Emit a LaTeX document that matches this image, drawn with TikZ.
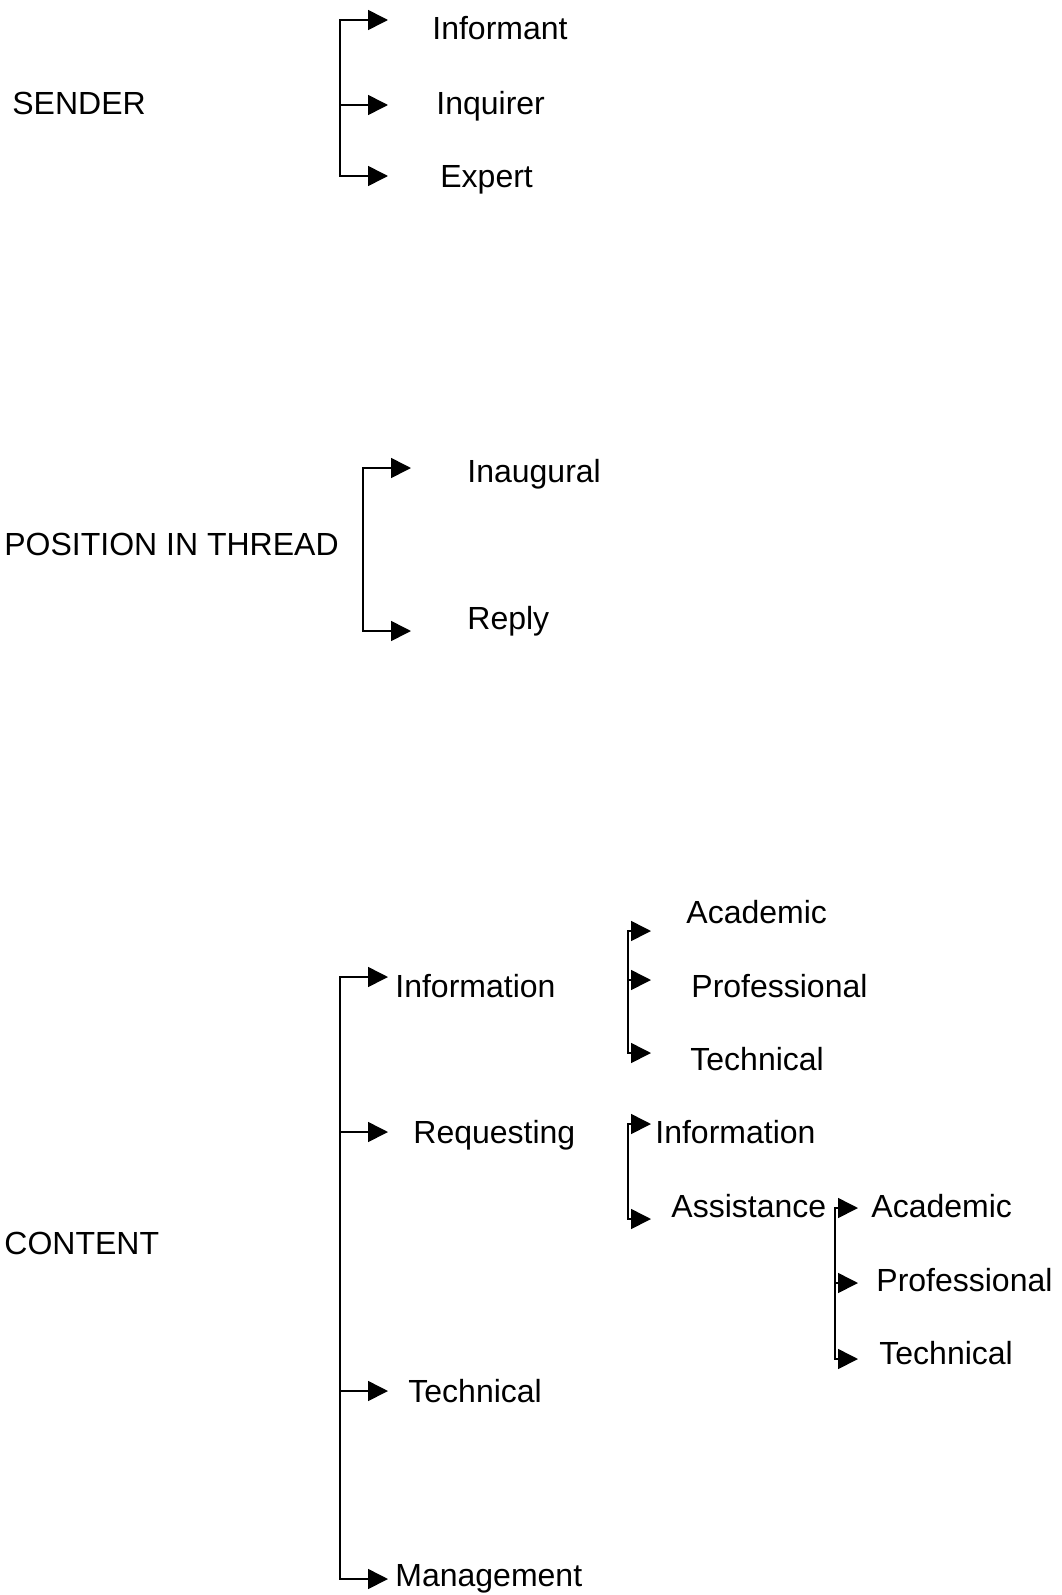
\documentclass[tikz,border=0pt]{standalone}
\usepackage{fontspec}
\setmainfont{Liberation Sans}
\usetikzlibrary{arrows.meta, positioning}

\tikzset{
	lbl/.style={anchor=west, inner sep=0pt, text height=11.5pt, text depth=0pt,
		font=\fontsize{16}{19}\selectfont},
	spine/.style={line width=0.8pt, line cap=rect},
	branch/.style={line width=0.8pt, -{Triangle[length=10pt, width=10pt]}}
}

\begin{document}
\begin{tikzpicture}[x=0.5pt, y=-0.5pt]
			\useasboundingbox (0,0) rectangle (1061,1595);

			% sender
			\node[lbl] (sender) at (12,103) {SENDER};
			\node[lbl] (informant) at (432,28) {Informant};
			\node[lbl] (inquirer) at (436,103) {Inquirer};
			\node[lbl] (expert) at (440,176) {Expert};
			\coordinate (sndTop) at (340,20);
			\coordinate (sndBot) at (340,176);
			\coordinate (tipInformant) at (388,20);
			\coordinate (tipInquirer) at (388,105);
			\coordinate (tipExpert) at (388,176);
			\draw[spine] (sndTop) -- (sndBot);
			\draw[branch] (sndTop) -- (tipInformant);
			\draw[branch] (sndTop |- tipInquirer) -- (tipInquirer);
			\draw[branch] (sndBot) -- (tipExpert);

			% position in thread
			\node[lbl] (position) at (4,544) {POSITION IN THREAD};
			\node[lbl] (inaugural) at (467,471) {Inaugural};
			\node[lbl] (reply) at (467,618) {Reply};
			\coordinate (posTop) at (363,468);
			\coordinate (posBot) at (363,631);
			\coordinate (tipInaugural) at (411,468);
			\coordinate (tipReply) at (411,631);
			\draw[spine] (posTop) -- (posBot);
			\draw[branch] (posTop) -- (tipInaugural);
			\draw[branch] (posBot) -- (tipReply);

			% content
			\node[lbl] (content) at (4,1243) {CONTENT};
			\node[lbl] (information) at (395,986) {Information};
			\node[lbl] (requesting) at (413,1132) {Requesting};
			\node[lbl] (technical) at (408,1391) {Technical};
			\node[lbl] (management) at (395,1575) {Management};
			\coordinate (cntTop) at (340,977);
			\coordinate (cntBot) at (340,1579);
			\coordinate (tipInformation) at (388,977);
			\coordinate (tipRequesting) at (388,1132);
			\coordinate (tipTechnical) at (388,1391);
			\coordinate (tipManagement) at (388,1579);
			\draw[spine] (cntTop) -- (cntBot);
			\draw[branch] (cntTop) -- (tipInformation);
			\draw[branch] (cntTop |- tipRequesting) -- (tipRequesting);
			\draw[branch] (cntTop |- tipTechnical) -- (tipTechnical);
			\draw[branch] (cntBot) -- (tipManagement);

			% information
			\node[lbl] (infAcademic) at (686,912) {Academic};
			\node[lbl] (infProfessional) at (691,986) {Professional};
			\node[lbl] (infTechnical) at (690,1059) {Technical};
			\coordinate (infTop) at (628,931);
			\coordinate (infBot) at (628,1053);
			\coordinate (tipInfAcademic) at (651,931);
			\coordinate (tipInfProfessional) at (651,980);
			\coordinate (tipInfTechnical) at (651,1053);
			\draw[spine] (infTop) -- (infBot);
			\draw[branch] (infTop) -- (tipInfAcademic);
			\draw[branch] (infTop |- tipInfProfessional) -- (tipInfProfessional);
			\draw[branch] (infBot) -- (tipInfTechnical);

			% requesting
			\node[lbl] (reqInformation) at (655,1132) {Information};
			\node[lbl] (assistance) at (671,1206) {Assistance};
			\coordinate (reqTop) at (628,1124);
			\coordinate (reqBot) at (628,1219);
			\coordinate (tipReqInformation) at (651,1124);
			\coordinate (tipAssistance) at (651,1219);
			\draw[spine] (reqTop) -- (reqBot);
			\draw[branch] (reqTop) -- (tipReqInformation);
			\draw[branch] (reqBot) -- (tipAssistance);

			% assistance
			\node[lbl] (asAcademic) at (871,1206) {Academic};
			\node[lbl] (asProfessional) at (876,1280) {Professional};
			\node[lbl] (asTechnical) at (879,1353) {Technical};
			\coordinate (asTop) at (835,1208);
			\coordinate (asBot) at (835,1359);
			\coordinate (tipAsAcademic) at (858,1208);
			\coordinate (tipAsProfessional) at (858,1283);
			\coordinate (tipAsTechnical) at (858,1359);
			\draw[spine] (asTop) -- (asBot);
			\draw[branch] (asTop) -- (tipAsAcademic);
			\draw[branch] (asTop |- tipAsProfessional) -- (tipAsProfessional);
			\draw[branch] (asBot) -- (tipAsTechnical);
		\end{tikzpicture}
\end{document}
